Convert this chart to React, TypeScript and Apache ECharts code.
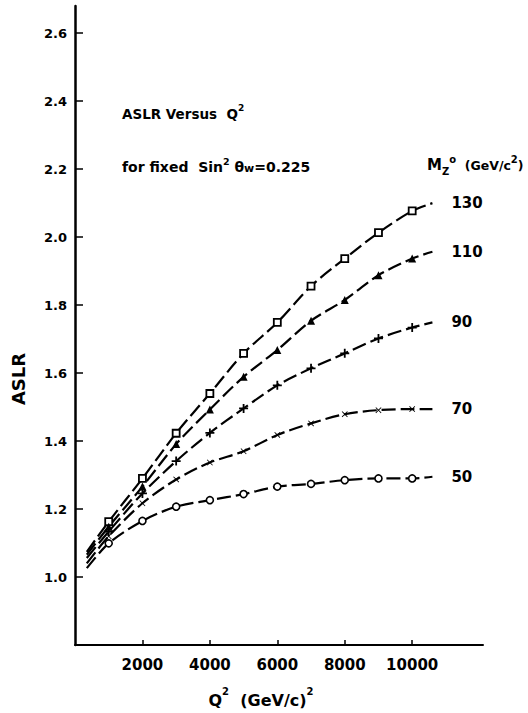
import React, { useEffect, useRef } from "react";
import * as echarts from "echarts";

const q2 = [350, 1000, 2000, 3000, 4000, 5000, 6000, 7000, 8000, 9000, 10000, 10600];
const seriesNames = ["130", "110", "90", "70", "50"];
const m130 = [1.074, 1.163, 1.29, 1.423, 1.54, 1.658, 1.749, 1.856, 1.937, 2.013, 2.077, 2.1];
const m110 = [1.066, 1.148, 1.266, 1.391, 1.493, 1.589, 1.668, 1.754, 1.815, 1.888, 1.937, 1.957];
const m90 = [1.056, 1.134, 1.246, 1.341, 1.424, 1.496, 1.564, 1.614, 1.658, 1.702, 1.734, 1.749];
const m70 = [1.04, 1.12, 1.217, 1.287, 1.337, 1.37, 1.418, 1.452, 1.479, 1.491, 1.494, 1.494];
const m50 = [1.026, 1.099, 1.165, 1.207, 1.226, 1.244, 1.266, 1.274, 1.285, 1.29, 1.29, 1.295];
const yTicks = [1.0, 1.2, 1.4, 1.6, 1.8, 2.0, 2.2, 2.4, 2.6];
const xTicks = [2000, 4000, 6000, 8000, 10000];

const FONT = "DejaVu Sans";

const PLUS = "path://M4 0h2v4h4v2h-4v4h-2v-4h-4v-2h4z";
const CROSS = "path://M1 0L5 4L9 0L10 1L6 5L10 9L9 10L5 6L1 10L0 9L4 5L0 1Z";

export default function App() {
  const ref = useRef<HTMLDivElement>(null);
  useEffect(() => {
    if (!ref.current) return;
    const chart = echarts.init(ref.current, null, { renderer: "svg" });
    const values = [m130, m110, m90, m70, m50];
    const markers = [
      { symbol: "rect", size: 7, color: "#fff", border: 1.8 },
      { symbol: "triangle", size: 8, color: "#000", border: 0 },
      { symbol: PLUS, size: 9, color: "#000", border: 0 },
      { symbol: CROSS, size: 6, color: "#000", border: 0 },
      { symbol: "circle", size: 7, color: "#fff", border: 1.6 },
    ];
    const series = values.map((vals, i) => ({
      type: "line",
      name: seriesNames[i],
      smooth: 0.3,
      symbol: markers[i].symbol,
      symbolSize: markers[i].size,
      showAllSymbol: true,
      itemStyle: { color: markers[i].color, borderColor: "#000", borderWidth: markers[i].border },
      lineStyle: { color: "#000", width: 2.2, type: [14, 5] },
      data: vals.map((v, j) =>
        j === 0 || j === vals.length - 1
          ? { value: [q2[j], v], symbol: "none" }
          : { value: [q2[j], v] }
      ),
      endLabel: {
        show: true,
        formatter: seriesNames[i],
        distance: 19,
        fontSize: 15,
        fontWeight: "bold",
        fontFamily: FONT,
        color: "#000",
      },
      z: 2,
    }));

    const txt = (size: number, va: string) => ({
      fontSize: size,
      fontWeight: "bold",
      fontFamily: FONT,
      fill: "#000",
      verticalAlign: va,
    });

    chart.setOption({
      animation: false,
      backgroundColor: "#fff",
      grid: { left: 75, right: 45, top: 6, bottom: 68 },
      xAxis: {
        type: "value",
        min: 0,
        max: 12100,
        splitLine: { show: false },
        axisLine: { lineStyle: { color: "#000", width: 2 } },
        axisTick: { inside: true, length: 5, lineStyle: { color: "#000", width: 1.5 }, customValues: xTicks },
        axisLabel: {
          customValues: xTicks,
          margin: 12,
          color: "#000",
          fontSize: 15,
          fontWeight: "bold",
          fontFamily: FONT,
          formatter: (v: number) => String(v),
        },
      },
      yAxis: {
        type: "value",
        min: 0.8,
        max: 2.68,
        splitLine: { show: false },
        axisLine: { lineStyle: { color: "#000", width: 2.5 } },
        axisTick: { inside: true, length: 8, lineStyle: { color: "#000", width: 1.5 }, customValues: yTicks },
        axisLabel: {
          customValues: yTicks,
          margin: 8,
          color: "#000",
          fontSize: 13,
          fontWeight: "bold",
          fontFamily: FONT,
          formatter: (v: number) => v.toFixed(1),
        },
      },
      series,
      graphic: [
        {
          type: "text",
          x: 122,
          y: 112,
          style: {
            text: "{a|ASLR Versus  Q}{s|2}",
            verticalAlign: "middle",
            rich: {
              a: { ...txt(13.5, "bottom"), lineHeight: 18 },
              s: txt(9, "top"),
            },
          },
        },
        {
          type: "text",
          x: 122,
          y: 165,
          style: {
            text: "{a|for fixed  Sin}{s|2}{a| θ}{b|w}{a|=0.225}",
            verticalAlign: "middle",
            rich: {
              a: { ...txt(14, "bottom"), lineHeight: 18 },
              s: txt(9.5, "top"),
              b: txt(11, "bottom"),
            },
          },
        },
        {
          type: "text",
          x: 427,
          y: 165,
          style: {
            text: "{a|M}{b|Z}{s|o}{c|  (GeV/c}{s|2}{c|)}",
            verticalAlign: "middle",
            rich: {
              a: { ...txt(15, "middle"), lineHeight: 22 },
              b: txt(10, "bottom"),
              s: txt(10, "top"),
              c: txt(12.5, "middle"),
            },
          },
        },
        {
          type: "text",
          x: 18,
          y: 379,
          rotation: Math.PI / 2,
          style: {
            text: "ASLR",
            align: "center",
            verticalAlign: "middle",
            fontSize: 18,
            fontWeight: "bold",
            fontFamily: FONT,
            fill: "#000",
          },
        },
        {
          type: "text",
          x: 261,
          y: 697,
          style: {
            text: "{a|Q}{s|2}{a|  (GeV/c)}{s|2}",
            align: "center",
            verticalAlign: "middle",
            rich: {
              a: { ...txt(16, "bottom"), lineHeight: 22 },
              s: txt(10, "top"),
            },
          },
        },
      ],
    });
    return () => chart.dispose();
  }, []);
  return <div ref={ref} style={{ width: 528, height: 713, position: "absolute", left: 0, top: 0 }} />;
}
